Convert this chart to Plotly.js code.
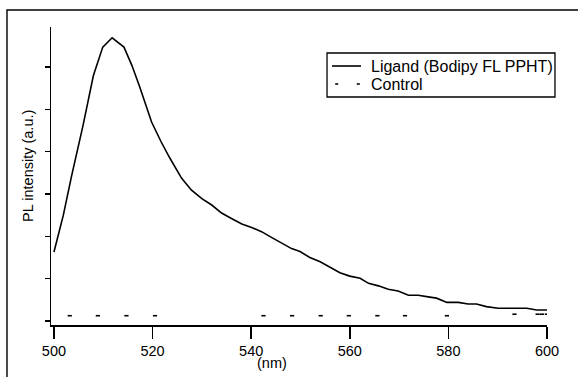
<!DOCTYPE html>
<html>
<head>
<meta charset="utf-8">
<script src="https://cdn.plot.ly/plotly-3.0.1.min.js"></script>
<style>html,body{margin:0;padding:0;background:#fff;}#chart{width:578px;height:377px;}</style>
</head>
<body>
<div id="chart"></div>
<script>
// Ligand (Bodipy FL PPHT) emission spectrum
const ligandNm = [500, 501.9, 503.6, 505.9, 508, 509.9, 511.8, 514.2, 515.8, 517.4, 519.8, 521.7, 523.5, 525.9, 527.9, 530, 532, 534, 536, 538.1, 540.1, 542.1, 544.2, 546.2, 548.2, 549.9, 551.9, 554, 556, 558, 560, 562.1, 563.8, 565.8, 567.8, 569.8, 571.9, 573.9, 575.9, 577.6, 579.7, 582, 584, 585.7, 587.7, 590.1, 592.5, 595.9, 597.9, 600];
const ligandPL = [1.63, 2.5, 3.44, 4.62, 5.8, 6.47, 6.69, 6.47, 6.04, 5.53, 4.7, 4.24, 3.85, 3.37, 3.09, 2.89, 2.74, 2.55, 2.42, 2.29, 2.21, 2.11, 1.97, 1.83, 1.71, 1.64, 1.5, 1.4, 1.26, 1.14, 1.06, 1.01, 0.89, 0.83, 0.75, 0.71, 0.61, 0.61, 0.57, 0.54, 0.44, 0.44, 0.4, 0.4, 0.34, 0.3, 0.3, 0.3, 0.26, 0.26];
// Control (visible points)
const controlNm = [503.2, 508.9, 514.7, 520.5, 542.5, 548.3, 554.1, 559.8, 565.6, 571.2, 579.7, 593.4, 598.1, 599.0, 600.0];
const controlPL = [0.125, 0.125, 0.125, 0.125, 0.125, 0.125, 0.125, 0.125, 0.125, 0.125, 0.125, 0.16, 0.16, 0.16, 0.16];
const xTicks = [500, 520, 540, 560, 580, 600];
const yTicks = [0, 1, 2, 3, 4, 5, 6];
const seriesNames = ['Ligand (Bodipy FL PPHT)', 'Control'];

const FONT = 'Arial, "Liberation Sans", sans-serif';

const traces = [
  {x: ligandNm, y: ligandPL, mode: 'lines', name: seriesNames[0],
   line: {color: '#000', width: 1.6}},
  {x: controlNm, y: controlPL, mode: 'markers', name: seriesNames[1],
   marker: {symbol: 'line-ew', size: 3, color: '#000', line: {color: '#000', width: 1.6}}}
];

// legend box (drawn as paper-referenced shapes + text)
const LG = {x0: 0.5565, x1: 1.0161, y0: 0.7651, y1: 0.9128, row1: 0.8691, row2: 0.8087, textX: 0.6411};

const layout = {
  width: 578, height: 377,
  margin: {l: 51, r: 31, t: 27, b: 52, pad: 0},
  paper_bgcolor: '#fff', plot_bgcolor: '#fff',
  font: {family: FONT, size: 14.5, color: '#000'},
  showlegend: false,
  xaxis: {range: [499.4, 600], tickvals: xTicks, ticktext: xTicks.map(String),
          ticks: 'outside', ticklen: 12, tickwidth: 1.5, tickcolor: '#000',
          showline: true, linewidth: 1.5, linecolor: '#000',
          showgrid: false, zeroline: false,
          tickfont: {family: FONT, size: 14.5, color: '#000'}},
  yaxis: {range: [-0.0945, 6.945], tickvals: yTicks,
          ticks: 'outside', ticklen: 5, tickwidth: 1.5, tickcolor: '#000',
          showline: true, linewidth: 1.5, linecolor: '#000',
          showgrid: false, zeroline: false, showticklabels: false},
  annotations: [
    {text: 'PL intensity (a.u.)', xref: 'paper', yref: 'paper', x: -0.0464, y: 0.5336,
     textangle: -90, showarrow: false, xanchor: 'center', yanchor: 'middle',
     font: {family: FONT, size: 14.5, color: '#000'}},
    {text: '(nm)', xref: 'paper', yref: 'paper', x: 0.4456, y: -0.1275,
     showarrow: false, xanchor: 'center', yanchor: 'middle',
     font: {family: FONT, size: 14.5, color: '#000'}},
    {text: seriesNames[0], xref: 'paper', yref: 'paper', x: LG.textX, y: LG.row1,
     showarrow: false, xanchor: 'left', yanchor: 'middle',
     font: {family: FONT, size: 16, color: '#000'}},
    {text: seriesNames[1], xref: 'paper', yref: 'paper', x: LG.textX, y: LG.row2,
     showarrow: false, xanchor: 'left', yanchor: 'middle',
     font: {family: FONT, size: 16, color: '#000'}}
  ],
  shapes: [
    {type: 'rect', xref: 'paper', yref: 'paper', x0: -0.0887, y0: -0.26, x1: 1.11, y1: 1.057,
     line: {color: '#000', width: 1.4}, layer: 'below'},
    {type: 'rect', xref: 'paper', yref: 'paper', x0: LG.x0, y0: LG.y0, x1: LG.x1, y1: LG.y1,
     line: {color: '#000', width: 1.3}, fillcolor: '#fff', layer: 'above'},
    {type: 'line', xref: 'paper', yref: 'paper', x0: 0.5665, x1: 0.6250, y0: LG.row1, y1: LG.row1,
     line: {color: '#000', width: 1.6}},
    {type: 'line', xref: 'paper', yref: 'paper', x0: 0.5730, x1: 0.5790, y0: LG.row2, y1: LG.row2,
     line: {color: '#000', width: 1.6}},
    {type: 'line', xref: 'paper', yref: 'paper', x0: 0.6165, x1: 0.6226, y0: LG.row2, y1: LG.row2,
     line: {color: '#000', width: 1.6}}
  ]
};

Plotly.newPlot('chart', traces, layout, {displayModeBar: false, staticPlot: true});
</script>
</body>
</html>
